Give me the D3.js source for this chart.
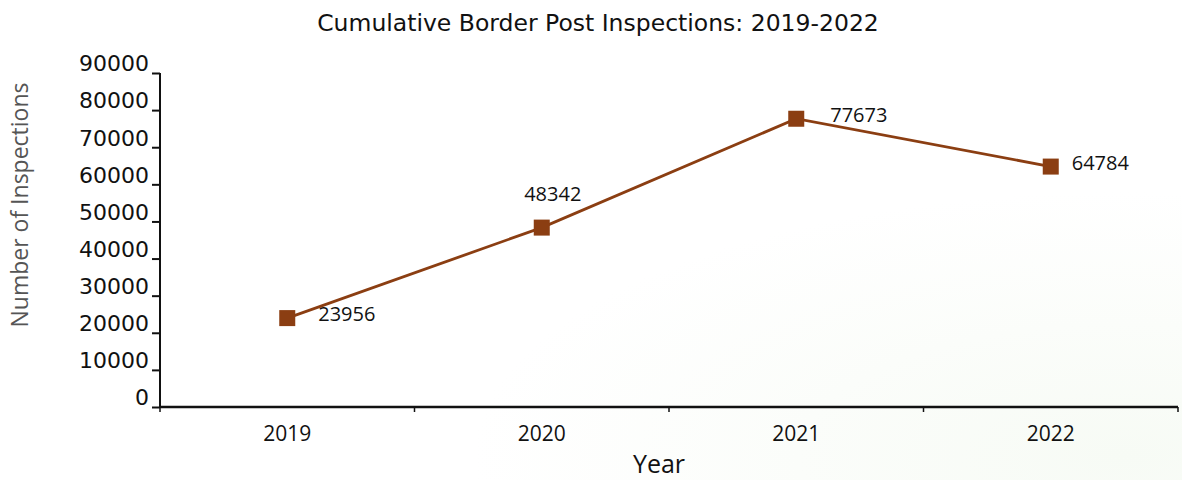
<!DOCTYPE html>
<html><head><meta charset="utf-8">
<script src="https://cdn.jsdelivr.net/npm/d3@7"></script>
<style>body{margin:0;background:#fff}svg{display:block}</style>
</head><body>
<svg id="c" width="1182" height="480"></svg>
<script>
const years = ["2019","2020","2021","2022"];
const inspections = [23956, 48342, 77673, 64784];
const yTicks = [0,10000,20000,30000,40000,50000,60000,70000,80000,90000];
const labelPos = ["right","above","right","right"];

const svg = d3.select("#c");
const W = 1182, H = 480;
const m = {left:160, right:4, top:73, bottom:73};
const x = d3.scaleBand().domain(years).range([m.left, W - m.right]).padding(0);
const y = d3.scaleLinear().domain([0, 90000]).range([H - m.bottom, m.top]);
const font = "'Open Sans', 'Noto Sans', sans-serif";
const wide = "'DejaVu Sans', sans-serif";

// faint background tint
const defs = svg.append("defs");
const g = defs.append("radialGradient").attr("id","bg").attr("cx","0.95").attr("cy","0.95").attr("r","0.55");
g.append("stop").attr("offset","0").attr("stop-color","#f7fbf5");
g.append("stop").attr("offset","1").attr("stop-color","#ffffff");
svg.append("rect").attr("width",W).attr("height",H).attr("fill","url(#bg)");

svg.append("text").attr("x", 598).attr("y", 31).attr("text-anchor","middle")
  .attr("font-family", wide).attr("font-size", 23.5).attr("fill","#111")
  .text("Cumulative Border Post Inspections: 2019-2022");

const yAxis = svg.append("g").attr("transform", `translate(${m.left},0)`)
  .call(d3.axisLeft(y).tickValues(yTicks).tickSize(8).tickPadding(3).tickFormat(d3.format("d")));
yAxis.selectAll("text").attr("font-family", wide).attr("font-size", 22).attr("fill","#111").attr("dy","-0.1em");
yAxis.selectAll("line,path").attr("stroke","#111").attr("stroke-width",2);
yAxis.select("path").attr("d", `M0,${y(0)}V${y(90000)}`);

const xAxis = svg.append("g").attr("transform", `translate(0,${y(0)})`)
  .call(d3.axisBottom(x).tickSize(0).tickPadding(19));
xAxis.selectAll("text").attr("font-family", font).attr("font-size", 21).attr("fill","#111");
xAxis.select("path").attr("stroke","#111").attr("stroke-width",2.5).attr("d", `M${m.left},0H${W - m.right}`);
const bounds = years.map(d => x(d)).concat([x(years[years.length-1]) + x.bandwidth()]);
xAxis.selectAll("line.bnd").data(bounds).enter().append("line").attr("class","bnd")
  .attr("x1", d=>d).attr("x2", d=>d).attr("y1",0).attr("y2",5)
  .attr("stroke","#111").attr("stroke-width",1.5);

svg.append("text").attr("transform", `translate(28,205) rotate(-90)`).attr("text-anchor","middle")
  .attr("font-family", font).attr("font-size", 23).attr("fill","#555").text("Number of Inspections");
svg.append("text").attr("x", 659).attr("y", 473).attr("text-anchor","middle")
  .attr("font-family", font).attr("font-size", 25).attr("fill","#111").text("Year");

const cx = d => x(d) + x.bandwidth()/2;
const pts = years.map((d,i) => ({year:d, v:inspections[i], pos:labelPos[i]}));
const labelDx = [31, 11, 34, 21];
const color = "#8B3E12";
svg.append("path").datum(pts)
  .attr("d", d3.line().x(d=>cx(d.year)).y(d=>y(d.v)))
  .attr("fill","none").attr("stroke", color).attr("stroke-width", 2.8);
svg.selectAll("rect.mk").data(pts).enter().append("rect").attr("class","mk")
  .attr("x", d=>cx(d.year)-8).attr("y", d=>y(d.v)-8).attr("width",16).attr("height",16)
  .attr("fill", color);
svg.selectAll("text.lbl").data(pts).enter().append("text").attr("class","lbl")
  .attr("x", (d,i) => cx(d.year) + labelDx[i])
  .attr("y", d => d.pos==="above" ? y(d.v)-27 : y(d.v)+3)
  .attr("text-anchor", d => d.pos==="above" ? "middle" : "start")
  .attr("font-family", font).attr("font-size", 20).attr("fill","#111")
  .text(d => d.v);
</script>
</body></html>
